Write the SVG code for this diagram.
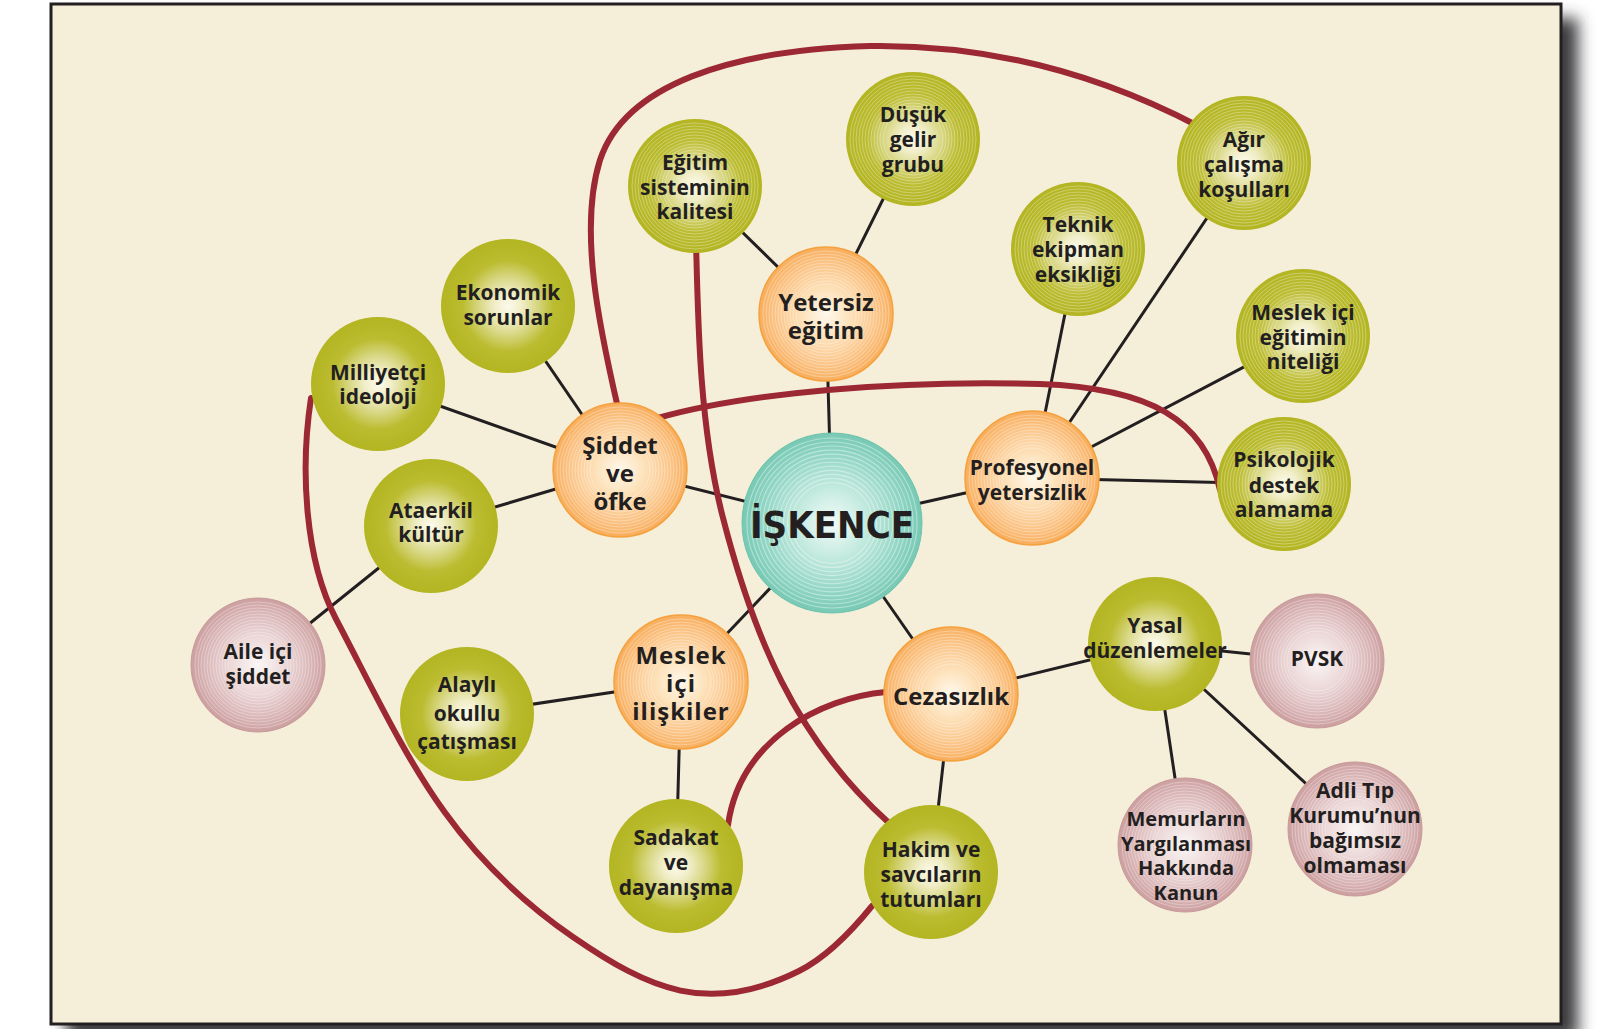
<svg xmlns="http://www.w3.org/2000/svg" xmlns:xlink="http://www.w3.org/1999/xlink" width="1600" height="1029" viewBox="0 0 1600 1029">
<style>
.t{font-family:"Open Sans","Noto Sans","DejaVu Sans",sans-serif;font-weight:700;fill:#231f20;text-anchor:middle}
.s21{font-size:21px}
.s20{font-size:20px}
.s24{font-size:24px}
.ln{stroke:#231f20;stroke-width:3;fill:none;stroke-linecap:round}
.rd{stroke:#9b2833;stroke-width:6;fill:none;stroke-linecap:round}
.cg{fill:url(#gG)}
.co{fill:url(#gO);stroke:#f5a13e;stroke-width:1.5}
.cp{fill:url(#gP);stroke:#c99a9b;stroke-width:1}
.ct{fill:url(#gT);stroke:#6ec3ad;stroke-width:1}
</style>
<defs>
<radialGradient id="gG" cx="0.5" cy="0.5" r="0.5">
<stop offset="0" stop-color="#fcfaec"/>
<stop offset="0.2" stop-color="#f1eec9"/>
<stop offset="0.45" stop-color="#d6d57e"/>
<stop offset="0.68" stop-color="#bbbc30"/>
<stop offset="1" stop-color="#b3b522"/>
</radialGradient>
<radialGradient id="gO" cx="0.5" cy="0.5" r="0.5">
<stop offset="0" stop-color="#fff8ec"/>
<stop offset="0.35" stop-color="#fde3bd"/>
<stop offset="0.75" stop-color="#fbc487"/>
<stop offset="1" stop-color="#f8ae5c"/>
</radialGradient>
<radialGradient id="gP" cx="0.5" cy="0.5" r="0.5">
<stop offset="0" stop-color="#fbf6f6"/>
<stop offset="0.4" stop-color="#eddada"/>
<stop offset="0.8" stop-color="#d9b4b5"/>
<stop offset="1" stop-color="#cc9fa0"/>
</radialGradient>
<radialGradient id="gT" cx="0.5" cy="0.5" r="0.5">
<stop offset="0" stop-color="#f3fbf8"/>
<stop offset="0.35" stop-color="#c9ece2"/>
<stop offset="0.75" stop-color="#94d7c6"/>
<stop offset="1" stop-color="#77c9b4"/>
</radialGradient>
<filter id="sh" x="-5%" y="-5%" width="110%" height="110%">
<feGaussianBlur stdDeviation="8"/>
</filter>
<g id="rings" fill="none" stroke="#ffffff" stroke-opacity="0.4" stroke-width="0.8">
<circle r="30"/><circle r="33"/><circle r="36"/><circle r="39"/><circle r="42"/><circle r="45"/><circle r="48"/><circle r="51"/><circle r="54"/><circle r="57"/><circle r="60"/><circle r="63"/>
</g>
</defs>

<rect x="0" y="0" width="1600" height="1029" fill="#ffffff"/>
<rect x="66" y="18" width="1512" height="1022" fill="#3a3a3e" filter="url(#sh)"/>
<rect x="51" y="4" width="1510" height="1020" fill="#f5efda" stroke="#231f20" stroke-width="3"/>

<g id="connectors">
<line class="ln" x1="832" y1="523" x2="826" y2="314"/>
<line class="ln" x1="832" y1="523" x2="620" y2="470"/>
<line class="ln" x1="832" y1="523" x2="1032" y2="478"/>
<line class="ln" x1="832" y1="523" x2="951" y2="694"/>
<line class="ln" x1="832" y1="523" x2="681" y2="682"/>
<line class="ln" x1="826" y1="314" x2="695" y2="186"/>
<line class="ln" x1="826" y1="314" x2="913" y2="139"/>
<line class="ln" x1="620" y1="470" x2="508" y2="306"/>
<line class="ln" x1="620" y1="470" x2="378" y2="384"/>
<line class="ln" x1="620" y1="470" x2="431" y2="526"/>
<line class="ln" x1="431" y1="526" x2="258" y2="665"/>
<line class="ln" x1="1032" y1="478" x2="1078" y2="249"/>
<line class="ln" x1="1032" y1="478" x2="1244" y2="163"/>
<line class="ln" x1="1032" y1="478" x2="1303" y2="336"/>
<line class="ln" x1="1032" y1="478" x2="1284" y2="484"/>
<line class="ln" x1="681" y1="682" x2="467" y2="714"/>
<line class="ln" x1="681" y1="682" x2="676" y2="866"/>
<line class="ln" x1="951" y1="694" x2="931" y2="872"/>
<line class="ln" x1="951" y1="694" x2="1155" y2="644"/>
<line class="ln" x1="1155" y1="644" x2="1317" y2="661"/>
<line class="ln" x1="1155" y1="644" x2="1185" y2="845"/>
<line class="ln" x1="1155" y1="644" x2="1355" y2="829"/>
<path class="rd" d="M618,408 C600,330 578,230 600,160 C625,85 730,50 870,46 C1000,44 1110,80 1198,126"/>
<path class="rd" d="M658,418 C750,392 900,380 1040,384 C1150,388 1205,420 1220,490"/>
<path class="rd" d="M696,240 C698,330 700.2,428.8 722.5,516 C752.4,632.8 794.4,737.6 888,822"/>
<path class="rd" d="M886,692 C820,698 740,740 728,825"/>
<path class="rd" d="M311,398 C300,470 305,560 336,619 C405.4,751.3 444.6,848.5 573,937 C648.8,989.2 708.3,1016.3 799,971 C829,956 855,927 872,906"/>
</g>

<g id="iskence">
<circle class="ct" cx="832" cy="523" r="90"/>
<use xlink:href="#rings" href="#rings" transform="translate(832,523) scale(1.35)"/>
<text x="832" y="538" style="font-family:'DejaVu Sans Condensed','DejaVu Sans',sans-serif;font-stretch:condensed;font-weight:700;font-size:38px;fill:#231f20;text-anchor:middle">İŞKENCE</text>
</g>

<g id="yetersiz-egitim">
<circle class="co" cx="826" cy="314" r="67"/>
<use xlink:href="#rings" href="#rings" x="826" y="314"/>
<text class="t s24"><tspan x="826" y="311">Yetersiz</tspan><tspan x="826" y="339">eğitim</tspan></text>
</g>

<g id="siddet-ve-ofke">
<circle class="co" cx="620" cy="470" r="67"/>
<use xlink:href="#rings" href="#rings" x="620" y="470"/>
<text class="t s24"><tspan x="620" y="454">Şiddet</tspan><tspan x="620" y="482">ve</tspan><tspan x="620" y="510">öfke</tspan></text>
</g>

<g id="profesyonel-yetersizlik">
<circle class="co" cx="1032" cy="478" r="67"/>
<use xlink:href="#rings" href="#rings" x="1032" y="478"/>
<text class="t s21"><tspan x="1032" y="475">Profesyonel</tspan><tspan x="1032" y="500">yetersizlik</tspan></text>
</g>

<g id="cezasizlik">
<circle class="co" cx="951" cy="694" r="67"/>
<use xlink:href="#rings" href="#rings" x="951" y="694"/>
<text class="t s24" x="951" y="705">Cezasızlık</text>
</g>

<g id="meslek-ici-iliskiler">
<circle class="co" cx="681" cy="682" r="67"/>
<use xlink:href="#rings" href="#rings" x="681" y="682"/>
<text class="t s24" style="letter-spacing:1px"><tspan x="681" y="664">Meslek</tspan><tspan x="681" y="692">içi</tspan><tspan x="681" y="720">ilişkiler</tspan></text>
</g>

<g id="egitim-sisteminin-kalitesi">
<circle class="cg" cx="695" cy="186" r="67"/>
<use xlink:href="#rings" href="#rings" x="695" y="186"/>
<text class="t s21"><tspan x="695" y="170">Eğitim</tspan><tspan x="695" y="195">sisteminin</tspan><tspan x="695" y="219">kalitesi</tspan></text>
</g>

<g id="dusuk-gelir-grubu">
<circle class="cg" cx="913" cy="139" r="67"/>
<use xlink:href="#rings" href="#rings" x="913" y="139"/>
<text class="t s21"><tspan x="913" y="122">Düşük</tspan><tspan x="913" y="147">gelir</tspan><tspan x="913" y="172">grubu</tspan></text>
</g>

<g id="agir-calisma-kosullari">
<circle class="cg" cx="1244" cy="163" r="67"/>
<use xlink:href="#rings" href="#rings" x="1244" y="163"/>
<text class="t s21"><tspan x="1244" y="147">Ağır</tspan><tspan x="1244" y="172">çalışma</tspan><tspan x="1244" y="197">koşulları</tspan></text>
</g>

<g id="teknik-ekipman-eksikligi">
<circle class="cg" cx="1078" cy="249" r="67"/>
<use xlink:href="#rings" href="#rings" x="1078" y="249"/>
<text class="t s21"><tspan x="1078" y="232">Teknik</tspan><tspan x="1078" y="257">ekipman</tspan><tspan x="1078" y="282">eksikliği</tspan></text>
</g>

<g id="meslek-ici-egitimin-niteligi">
<circle class="cg" cx="1303" cy="336" r="67"/>
<use xlink:href="#rings" href="#rings" x="1303" y="336"/>
<text class="t s21"><tspan x="1303" y="320">Meslek içi</tspan><tspan x="1303" y="345">eğitimin</tspan><tspan x="1303" y="369">niteliği</tspan></text>
</g>

<g id="psikolojik-destek-alamama">
<circle class="cg" cx="1284" cy="484" r="67"/>
<use xlink:href="#rings" href="#rings" x="1284" y="484"/>
<text class="t s21"><tspan x="1284" y="467">Psikolojik</tspan><tspan x="1284" y="493">destek</tspan><tspan x="1284" y="517">alamama</tspan></text>
</g>

<g id="ekonomik-sorunlar">
<circle class="cg" cx="508" cy="306" r="67"/>
<text class="t s21"><tspan x="508" y="300">Ekonomik</tspan><tspan x="508" y="325">sorunlar</tspan></text>
</g>

<g id="milliyetci-ideoloji">
<circle class="cg" cx="378" cy="384" r="67"/>
<text class="t s21"><tspan x="378" y="380">Milliyetçi</tspan><tspan x="378" y="404">ideoloji</tspan></text>
</g>

<g id="ataerkil-kultur">
<circle class="cg" cx="431" cy="526" r="67"/>
<text class="t s21"><tspan x="431" y="518">Ataerkil</tspan><tspan x="431" y="542">kültür</tspan></text>
</g>

<g id="aile-ici-siddet">
<circle class="cp" cx="258" cy="665" r="67"/>
<use xlink:href="#rings" href="#rings" x="258" y="665"/>
<text class="t s21"><tspan x="258" y="659">Aile içi</tspan><tspan x="258" y="684">şiddet</tspan></text>
</g>

<g id="alayli-okullu-catismasi">
<circle class="cg" cx="467" cy="714" r="67"/>
<text class="t s21"><tspan x="467" y="692">Alaylı</tspan><tspan x="467" y="721">okullu</tspan><tspan x="467" y="749">çatışması</tspan></text>
</g>

<g id="sadakat-ve-dayanisma">
<circle class="cg" cx="676" cy="866" r="67"/>
<text class="t s21"><tspan x="676" y="845">Sadakat</tspan><tspan x="676" y="870">ve</tspan><tspan x="676" y="895">dayanışma</tspan></text>
</g>

<g id="hakim-ve-savcilarin-tutumlari">
<circle class="cg" cx="931" cy="872" r="67"/>
<text class="t s21"><tspan x="931" y="857">Hakim ve</tspan><tspan x="931" y="882">savcıların</tspan><tspan x="931" y="907">tutumları</tspan></text>
</g>

<g id="yasal-duzenlemeler">
<circle class="cg" cx="1155" cy="644" r="67"/>
<text class="t s21"><tspan x="1155" y="633">Yasal</tspan><tspan x="1155" y="658">düzenlemeler</tspan></text>
</g>

<g id="pvsk">
<circle class="cp" cx="1317" cy="661" r="67"/>
<use xlink:href="#rings" href="#rings" x="1317" y="661"/>
<text class="t s21" x="1317" y="666">PVSK</text>
</g>

<g id="memurlarin-yargilanmasi">
<circle class="cp" cx="1185" cy="845" r="67"/>
<use xlink:href="#rings" href="#rings" x="1185" y="845"/>
<text class="t s20"><tspan x="1186" y="826">Memurların</tspan><tspan x="1186" y="851">Yargılanması</tspan><tspan x="1186" y="875">Hakkında</tspan><tspan x="1186" y="900">Kanun</tspan></text>
</g>

<g id="adli-tip-kurumu">
<circle class="cp" cx="1355" cy="829" r="67"/>
<use xlink:href="#rings" href="#rings" x="1355" y="829"/>
<text class="t s21"><tspan x="1355" y="798">Adli Tıp</tspan><tspan x="1355" y="823">Kurumu’nun</tspan><tspan x="1355" y="848">bağımsız</tspan><tspan x="1355" y="873">olmaması</tspan></text>
</g>
</svg>
